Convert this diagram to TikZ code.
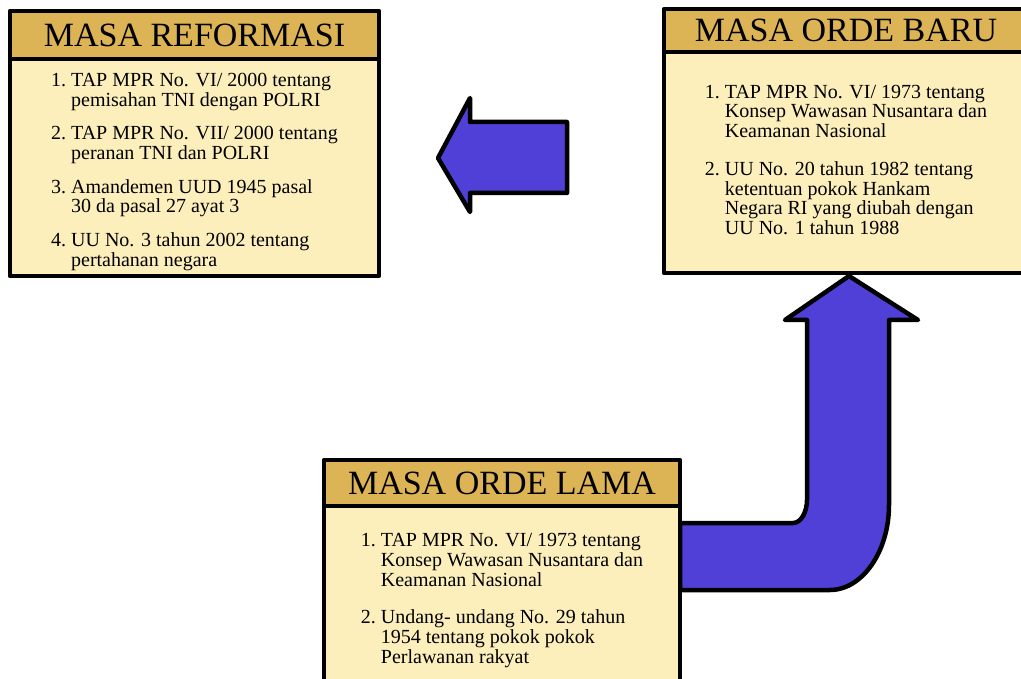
\documentclass[tikz,border=0pt]{standalone}
\usepackage{fontspec}
\setmainfont{Liberation Serif}
\usepackage{xcolor}
\usepackage{tikz}
\definecolor{hdrgold}{RGB}{220,179,85}
\definecolor{bodycream}{RGB}{253,239,188}
\definecolor{arrowblue}{RGB}{80,64,216}

\begin{document}
\begin{tikzpicture}[
    x=1pt, y=-1pt,
    panel/.style={draw, line width=4.5pt, outer sep=0pt, inner sep=0pt,
                  anchor=north west, line join=round},
    hdr/.style={panel, fill=hdrgold, font=\fontsize{34}{34}\selectfont},
    body/.style={panel, fill=bodycream, font=\fontsize{20}{19.5}\selectfont},
    blockarrow/.style={draw, fill=arrowblue, line width=4.5pt, line join=round},
  ]
  \useasboundingbox (0,0) rectangle (1021,679);
  %% ---- Block arrows (under the panels) ----
  % Orde Lama -> Orde Baru (bent arrow)
  \coordinate (jtail) at (680,556);
  \coordinate (jtip)  at (849,276);
  \draw[blockarrow] (jtail |- 0,523) -- (793,523)
    .. controls (801,523) and (807,512) .. (807,500) -- (807,320) -- (785,320)
    -- (jtip) -- (918,320) -- (889,320) -- (889,505)
    .. controls (889,552) and (862,590) .. (830,590) -- (jtail |- 0,590) -- cycle;
  % Orde Baru -> Reformasi
  \coordinate (ltail) at (567,158);
  \coordinate (ltip)  at (438,158);
  \draw[blockarrow] (ltip) -- (470,98) -- (470,122) -- (ltail |- 0,122)
    -- (ltail |- 0,193) -- (470,193) -- (470,212) -- cycle;
  %% ---- Masa Reformasi ----
  \node[hdr, minimum width=369pt, minimum height=48pt] (refH) at (10,11) {MASA REFORMASI};
  \node[body, minimum width=369pt, minimum height=217pt] (refB) at (10,59) {%
    \raisebox{-5pt}[\height][\depth]{%
    \begin{tabular}{@{}l@{\hspace{5pt}}l@{}}
      1. & TAP MPR No. VI/ 2000 tentang\\
         & pemisahan TNI dengan POLRI\\[14pt]
      2. & TAP MPR No. VII/ 2000 tentang\\
         & peranan TNI dan POLRI\\[14pt]
      3. & Amandemen UUD 1945 pasal\\
         & 30 da pasal 27 ayat 3\\[14pt]
      4. & UU No. 3 tahun 2002 tentang\\
         & pertahanan negara
    \end{tabular}}};
  %% ---- Masa Orde Baru ----
  \node[hdr, minimum width=364pt, minimum height=43pt] (baruH) at (664,9) {MASA ORDE BARU};
  \node[body, minimum width=364pt, minimum height=221pt] (baruB) at (664,52) {%
    \begin{tabular}{@{}l@{\hspace{5pt}}l@{}}
      1. & TAP MPR No. VI/ 1973 tentang\\
         & Konsep Wawasan Nusantara dan\\
         & Keamanan Nasional\\[18pt]
      2. & UU No. 20 tahun 1982 tentang\\
         & ketentuan pokok Hankam\\
         & Negara RI yang diubah dengan\\
         & UU No. 1 tahun 1988
    \end{tabular}};
  %% ---- Masa Orde Lama ----
  \node[hdr, minimum width=356pt, minimum height=46pt] (lamaH) at (324,460) {MASA ORDE LAMA};
  \node[body, minimum width=356pt, minimum height=190pt] (lamaB) at (324,506) {%
    \begin{tabular}{@{}l@{\hspace{5pt}}l@{}}
      1. & TAP MPR No. VI/ 1973 tentang\\
         & Konsep Wawasan Nusantara dan\\
         & Keamanan Nasional\\[18pt]
      2. & Undang- undang No. 29 tahun\\
         & 1954 tentang pokok pokok\\
         & Perlawanan rakyat
    \end{tabular}};
\end{tikzpicture}
\end{document}
